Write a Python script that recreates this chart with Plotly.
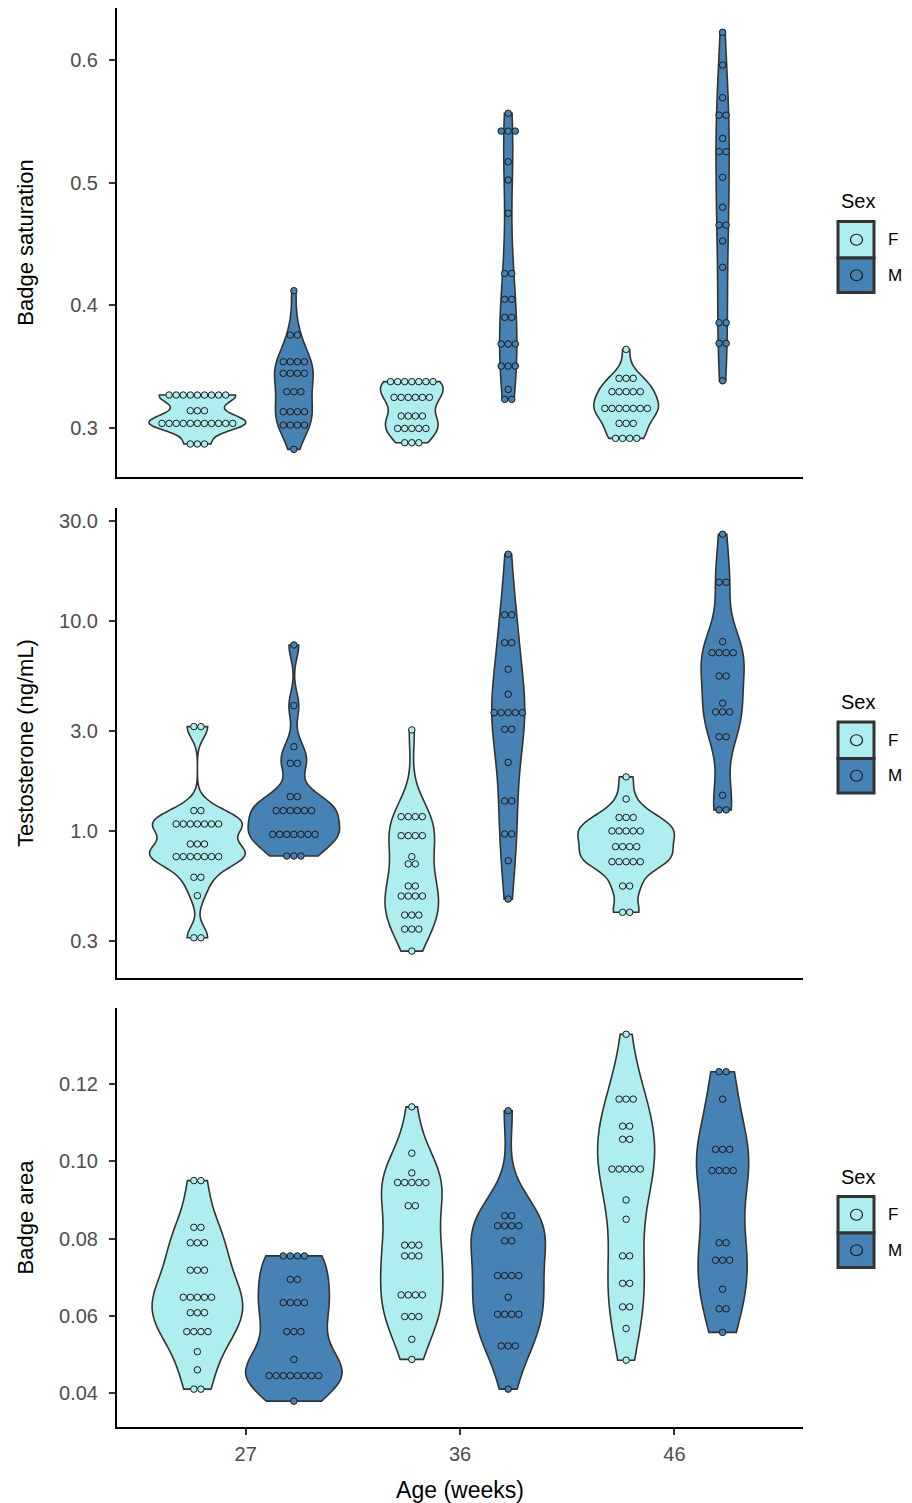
import numpy as np
import plotly.graph_objects as go

# ---------------- data (dot rows: level, count) ----------------
AGES = ["27", "36", "46"]
SEXES = ["F", "M"]

# Panel 1: Badge saturation
sat_27F_lv = [0.287, 0.3038, 0.3141, 0.3269]
sat_27F_n = [3, 11, 3, 9]
sat_27M_lv = [0.2826, 0.3024, 0.3133, 0.3296, 0.3446, 0.354, 0.3758, 0.4119]
sat_27M_n = [1, 4, 4, 3, 4, 4, 2, 1]
sat_36F_lv = [0.288, 0.2997, 0.3098, 0.325, 0.3378]
sat_36F_n = [3, 5, 4, 6, 7]
sat_36M_lv = [0.3234, 0.3315, 0.3505, 0.3685, 0.3902, 0.4049, 0.426, 0.475, 0.5021, 0.517, 0.542, 0.5565]
sat_36M_n = [2, 1, 3, 3, 2, 2, 2, 1, 1, 1, 3, 1]
sat_46F_lv = [0.2916, 0.3038, 0.316, 0.3296, 0.3405, 0.3641]
sat_46F_n = [4, 3, 7, 5, 3, 1]
sat_46M_lv = [0.3385, 0.369, 0.3858, 0.431, 0.4524, 0.4654, 0.4799, 0.5043, 0.5252, 0.536, 0.555, 0.5692, 0.5958, 0.6225]
sat_46M_n = [1, 2, 2, 1, 1, 2, 1, 1, 2, 1, 2, 1, 1, 1]

# Panel 2: Testosterone (ng/mL), log scale
tes_27F_lv = [0.31, 0.492, 0.602, 0.755, 0.867, 1.08, 1.25, 3.14]
tes_27F_n = [2, 1, 2, 7, 3, 7, 2, 2]
tes_27M_lv = [0.76, 0.964, 1.25, 1.457, 2.10, 2.52, 3.95, 7.69]
tes_27M_n = [3, 7, 6, 2, 2, 1, 1, 1]
tes_36F_lv = [0.268, 0.341, 0.398, 0.49, 0.547, 0.697, 0.755, 0.95, 1.17, 3.03]
tes_36F_n = [1, 3, 3, 4, 2, 2, 1, 4, 4, 1]
tes_36M_lv = [0.474, 0.722, 0.968, 1.39, 2.12, 3.05, 3.66, 4.48, 5.89, 7.88, 10.7, 20.8]
tes_36M_n = [1, 1, 2, 2, 1, 2, 5, 1, 1, 2, 2, 1]
tes_46F_lv = [0.41, 0.547, 0.714, 0.842, 1.0, 1.16, 1.42, 1.81]
tes_46F_n = [2, 2, 5, 4, 5, 3, 1, 1]
tes_46M_lv = [1.26, 1.48, 2.81, 3.69, 4.06, 5.47, 7.06, 7.97, 15.3, 25.9]
tes_46M_n = [2, 1, 2, 3, 1, 2, 4, 1, 2, 1]

# Panel 3: Badge area
area_27F_lv = [0.041, 0.046, 0.0507, 0.0559, 0.0608, 0.0648, 0.0718, 0.0789, 0.0829, 0.0950]
area_27F_n = [2, 1, 1, 4, 3, 5, 3, 3, 2, 2]
area_27M_lv = [0.0379, 0.0445, 0.0487, 0.0559, 0.0634, 0.0694, 0.0755]
area_27M_n = [1, 8, 1, 3, 4, 2, 4]
area_36F_lv = [0.0487, 0.0539, 0.0598, 0.0654, 0.0755, 0.0783, 0.0885, 0.0945, 0.097, 0.1021, 0.1141]
area_36F_n = [1, 1, 3, 4, 3, 3, 2, 5, 1, 1, 1]
area_36M_lv = [0.041, 0.0522, 0.0604, 0.0648, 0.0704, 0.0794, 0.0833, 0.0859, 0.1131]
area_36M_n = [1, 3, 4, 1, 4, 2, 4, 2, 1]
area_46F_lv = [0.0485, 0.0567, 0.0623, 0.0684, 0.0755, 0.085, 0.09, 0.098, 0.1057, 0.1091, 0.1161, 0.1329]
area_46F_n = [1, 1, 2, 2, 2, 1, 1, 5, 2, 2, 3, 1]
area_46M_lv = [0.0557, 0.0618, 0.0669, 0.0744, 0.0789, 0.0976, 0.1031, 0.1161, 0.1232]
area_46M_n = [1, 2, 1, 3, 2, 4, 3, 1, 2]

SAT_TICKS = [0.3, 0.4, 0.5, 0.6]
SAT_LABELS = ["0.3", "0.4", "0.5", "0.6"]
TES_TICKS = [0.3, 1.0, 3.0, 10.0, 30.0]
TES_LABELS = ["0.3", "1.0", "3.0", "10.0", "30.0"]
AREA_TICKS = [0.04, 0.06, 0.08, 0.10, 0.12]
AREA_LABELS = ["0.04", "0.06", "0.08", "0.10", "0.12"]
LEGEND_TITLE = "Sex"

# ---------------- styling ----------------
COLORS = {"F": "#AEEEEE", "M": "#4682B4"}
OUTLINE = "#333333"
DODGE = 0.225
MAX_W = 0.45
DOT_STEP = 0.033
FONT = "Liberation Sans, Arial, sans-serif"

# figure geometry (the page body has an 8px margin)
W, H = 904, 1495
ML, MR, MT, MB = 109, 109, 0, 76
PW, PH = W - ML - MR, H - MT - MB
OFF = 8


def px_x(px):  # page pixel -> paper x
    return (px - OFF - ML) / PW


def px_y(py):  # page pixel -> paper y
    return (PH + MT - (py - OFF)) / PH


def nrd0(x):
    x = np.asarray(x, float)
    n = len(x)
    sd = np.std(x, ddof=1)
    q75, q25 = np.percentile(x, [75, 25])
    lo = min(sd, (q75 - q25) / 1.34)
    if lo <= 0:
        lo = sd
    return 0.9 * lo * n ** (-0.2)


def max_density(x, bw):
    x = np.asarray(x, float)
    t = np.linspace(x.min(), x.max(), 512)
    d = np.exp(-0.5 * ((t[:, None] - x[None, :]) / bw) ** 2).sum(axis=1)
    d /= (len(x) * bw * np.sqrt(2 * np.pi))
    return d.max()


panels = [
    dict(groups={("27", "F"): (sat_27F_lv, sat_27F_n), ("27", "M"): (sat_27M_lv, sat_27M_n),
                 ("36", "F"): (sat_36F_lv, sat_36F_n), ("36", "M"): (sat_36M_lv, sat_36M_n),
                 ("46", "F"): (sat_46F_lv, sat_46F_n), ("46", "M"): (sat_46M_lv, sat_46M_n)},
         log=False, title="Badge saturation", ticks=SAT_TICKS, labels=SAT_LABELS,
         yrange=[0.2601, 0.6423], top_px=8, bot_px=477, standoff=30),
    dict(groups={("27", "F"): (tes_27F_lv, tes_27F_n), ("27", "M"): (tes_27M_lv, tes_27M_n),
                 ("36", "F"): (tes_36F_lv, tes_36F_n), ("36", "M"): (tes_36M_lv, tes_36M_n),
                 ("46", "F"): (tes_46F_lv, tes_46F_n), ("46", "M"): (tes_46M_lv, tes_46M_n)},
         log=True, title="Testosterone (ng/mL)", ticks=TES_TICKS, labels=TES_LABELS,
         yrange=[-0.70, 1.538], top_px=508, bot_px=978, standoff=19),
    dict(groups={("27", "F"): (area_27F_lv, area_27F_n), ("27", "M"): (area_27M_lv, area_27M_n),
                 ("36", "F"): (area_36F_lv, area_36F_n), ("36", "M"): (area_36M_lv, area_36M_n),
                 ("46", "F"): (area_46F_lv, area_46F_n), ("46", "M"): (area_46M_lv, area_46M_n)},
         log=False, title="Badge area", ticks=AREA_TICKS, labels=AREA_LABELS,
         yrange=[0.0312, 0.1397], top_px=1008, bot_px=1427, standoff=19),
]

fig = go.Figure()
shapes, annos = [], []

for pi, p in enumerate(panels):
    suffix = "" if pi == 0 else str(pi + 1)
    xref, yref = "x" + suffix, "y" + suffix
    tf = (lambda v: np.log10(np.asarray(v, float))) if p["log"] else (lambda v: np.asarray(v, float))
    vals = {key: tf(np.repeat(lv, n)) for key, (lv, n) in p["groups"].items()}
    bws = {k: nrd0(v) for k, v in vals.items()}
    dmax = {k: max_density(vals[k], bws[k]) for k in vals}
    top = max(dmax.values())
    for ai, age in enumerate(AGES):
        for sex in SEXES:
            key = (age, sex)
            pos = ai + 1 + (-DODGE if sex == "F" else DODGE)
            fig.add_trace(go.Violin(
                y=vals[key], x0=pos, name=sex, showlegend=False,
                width=MAX_W * dmax[key] / top, scalemode="width",
                bandwidth=bws[key], spanmode="hard", points=False,
                fillcolor=COLORS[sex], line=dict(color=OUTLINE, width=1.6),
                opacity=1, xaxis=xref, yaxis=yref, hoverinfo="skip"))
            lv, n = p["groups"][key]
            dx, dy = [], []
            for level, cnt in zip(lv, n):
                for k in range(cnt):
                    dx.append(pos + (k - (cnt - 1) / 2) * DOT_STEP)
                    dy.append(level)
            fig.add_trace(go.Scatter(
                x=dx, y=tf(dy), mode="markers", showlegend=False, name=sex,
                marker=dict(size=6.5, color=COLORS[sex], line=dict(color="#1a1a1a", width=1)),
                xaxis=xref, yaxis=yref, hoverinfo="skip"))

    dom = [px_y(p["bot_px"]), px_y(p["top_px"])]
    fig.layout["yaxis" + suffix] = dict(
        domain=dom, range=p["yrange"], anchor=xref,
        tickmode="array", tickvals=list(tf(p["ticks"])), ticktext=p["labels"],
        showline=True, linecolor="black", linewidth=2,
        ticks="outside", ticklen=6, tickwidth=1.5, tickcolor="#333333",
        ticklabelstandoff=7,
        tickfont=dict(size=20, color="#4D4D4D", family=FONT),
        showgrid=False, zeroline=False,
        title=dict(text=p["title"], font=dict(size=22, color="black", family=FONT),
                   standoff=p["standoff"]))
    last = pi == 2
    fig.layout["xaxis" + suffix] = dict(
        domain=[0, 1], range=[0.4, 3.6], anchor=yref,
        tickmode="array", tickvals=[1, 2, 3], ticktext=AGES,
        showline=True, linecolor="black", linewidth=2,
        ticks="outside" if last else "", ticklen=6, tickwidth=1.5, tickcolor="#333333",
        showticklabels=last, ticklabelstandoff=2,
        tickfont=dict(size=20, color="#4D4D4D", family=FONT),
        showgrid=False, zeroline=False,
        title=dict(text="Age (weeks)" if last else "",
                   font=dict(size=23, color="black", family=FONT), standoff=18))

    # legend (ggplot-style keys: box with a circle)
    c = (p["top_px"] + p["bot_px"]) / 2
    annos.append(dict(text=LEGEND_TITLE, x=px_x(858), y=px_y(c - 41), xref="paper", yref="paper",
                      showarrow=False, xanchor="center", yanchor="middle",
                      font=dict(size=20, color="black", family=FONT)))
    for si, (sex, y0, y1) in enumerate([("F", c - 21, c + 15.5), ("M", c + 15.5, c + 50)]):
        shapes.append(dict(type="rect", xref="paper", yref="paper",
                           x0=px_x(838), x1=px_x(874), y0=px_y(y1), y1=px_y(y0),
                           fillcolor=COLORS[sex], line=dict(color="#333333", width=3)))
        cy = (y0 + y1) / 2
        shapes.append(dict(type="circle", xref="paper", yref="paper",
                           x0=px_x(850.5), x1=px_x(862.5), y0=px_y(cy + 5.5), y1=px_y(cy - 5.5),
                           fillcolor=COLORS[sex], line=dict(color="#1a1a1a", width=1.2)))
        annos.append(dict(text=sex, x=px_x(886), y=px_y(cy), xref="paper", yref="paper",
                          showarrow=False, xanchor="left", yanchor="middle",
                          font=dict(size=17, color="black", family=FONT)))

fig.update_layout(
    width=W, height=H, plot_bgcolor="white", paper_bgcolor="white",
    margin=dict(l=ML, r=MR, t=MT, b=MB, autoexpand=False), font=dict(family=FONT),
    showlegend=False, shapes=shapes, annotations=annos,
)

fig.write_html("out.html")
